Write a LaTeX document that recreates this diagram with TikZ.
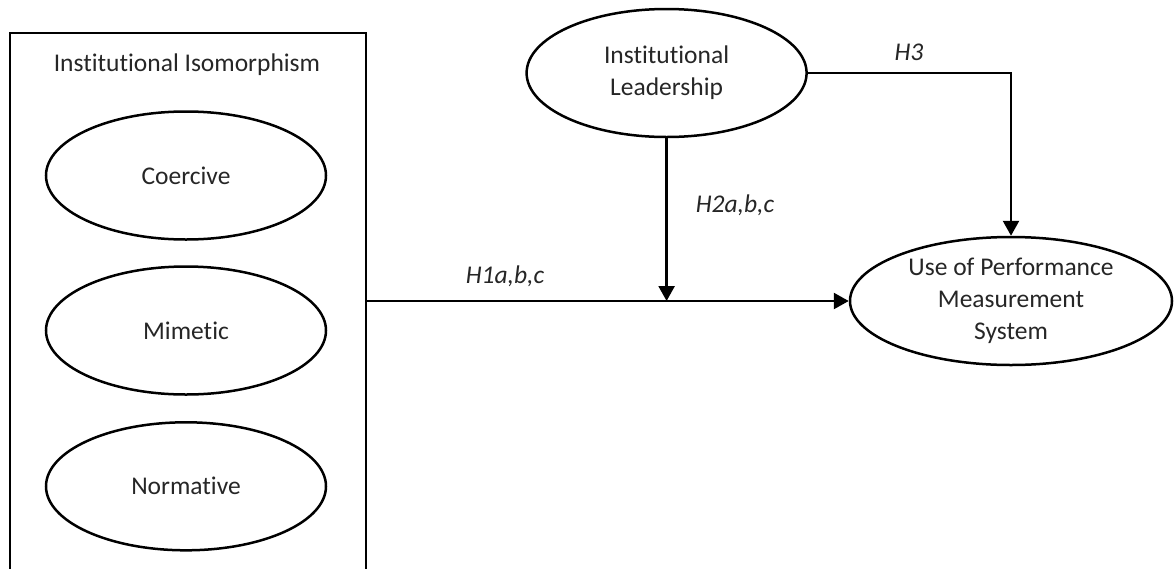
\documentclass[tikz,border=0pt]{standalone}
\usepackage{fontspec}
\setmainfont{Carlito}[Ligatures={NoCommon,NoRequired,NoContextual}]
\usetikzlibrary{shapes.geometric,arrows.meta}
\definecolor{txt}{HTML}{262626}
\tikzset{
  oval/.style={draw=black, line width=2.5pt, ellipse, minimum width=280pt, minimum height=128pt, inner sep=0pt},
  lbl/.style={text=txt, font=\fontsize{25.5pt}{32pt}\selectfont, align=center, inner sep=0pt},
  hyp/.style={text=txt, font=\fontsize{25.5pt}{32pt}\selectfont\itshape, inner sep=0pt},
  conn/.style={line width=2.5pt, draw=black},
  arr/.style={conn, -{Triangle[length=15pt,width=16pt]}},
}
\begin{document}
\begin{tikzpicture}[x=1pt,y=-1pt]
\useasboundingbox (0,0) rectangle (1175,568);
\clip (0,0) rectangle (1175,568);
\node[draw=black, line width=2.5pt, minimum width=356pt, minimum height=542pt, inner sep=0pt] (box) at (188,304) {};
\node[lbl] (title) at (187,65) {Institutional Isomorphism};
\node[oval, label={[lbl]center:Coercive}] (coe) at (186,175.5) {};
\node[oval, label={[lbl]center:Mimetic}] (mim) at (186,330.5) {};
\node[oval, label={[lbl]center:Normative}] (nor) at (186,486.3) {};
\node[oval, label={[lbl]center:{Institutional\\Leadership}}] (lead) at (666.6,73) {};
\node[oval, minimum width=322pt, label={[lbl]center:{Use of Performance\\Measurement\\System}}] (pms) at (1011,301) {};
\draw[arr] (box.east |- pms.west) -- (pms.west);
\draw[arr] (lead.south) -- (lead.south |- pms.west);
\draw[arr] (lead.east) -| (pms.north);
\node[hyp] (h1) at (505,276) {H1a,b,c};
\node[hyp] (h2) at (735,205) {H2a,b,c};
\node[hyp] (h3) at (909,52) {H3};
\end{tikzpicture}
\end{document}
